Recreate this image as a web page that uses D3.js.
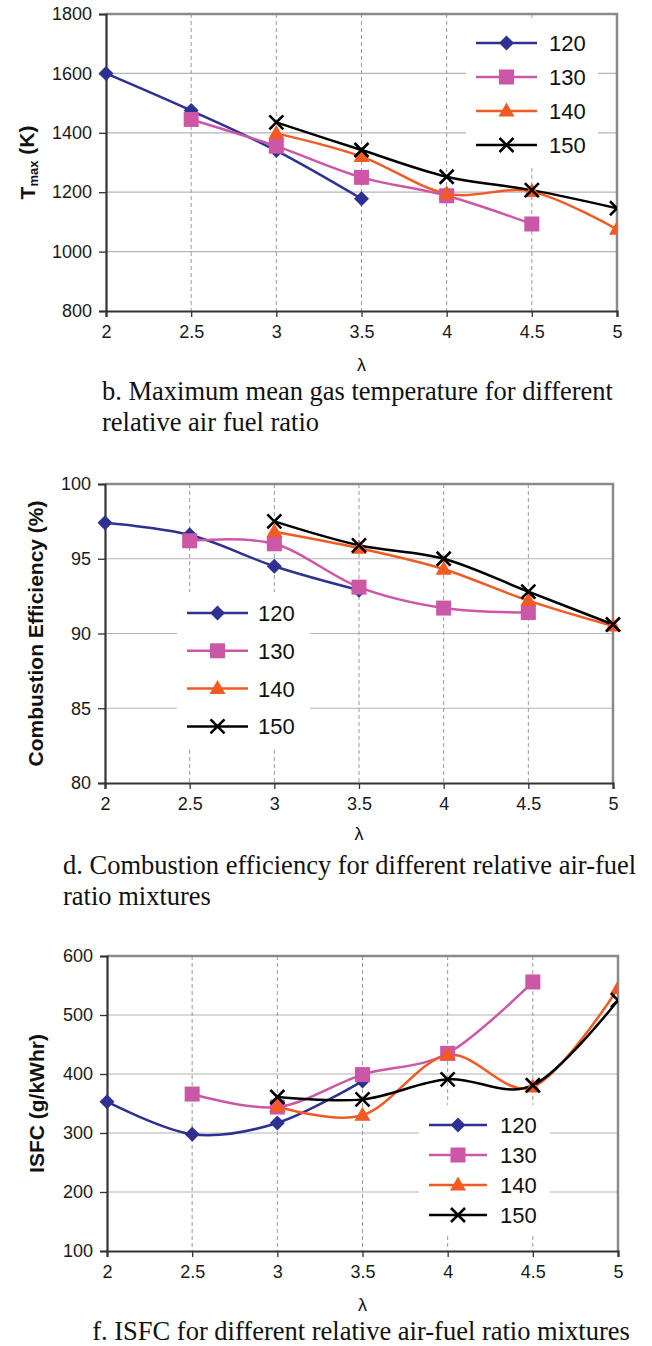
<!DOCTYPE html>
<html>
<head>
<meta charset="utf-8">
<script src="https://cdn.jsdelivr.net/npm/d3@7"></script>
<style>
  body { margin: 0; background: #fff; }
  svg { display: block; }
</style>
</head>
<body>
<svg id="fig" width="652" height="1346"></svg>
<script>
// Relative air-fuel ratio (lambda) on every x axis
const lambdaValues = [2, 2.5, 3, 3.5, 4, 4.5, 5];
const lambdaTickLabels = ["2", "2.5", "3", "3.5", "4", "4.5", "5"];
const seriesNames = ["120", "130", "140", "150"];

// b. Maximum mean gas temperature (K)
const tmax120 = [1600, 1475, 1340, 1178, null, null, null];
const tmax130 = [null, 1445, 1355, 1250, 1188, 1093, null];
const tmax140 = [null, null, 1398, 1320, 1195, 1202, 1075];
const tmax150 = [null, null, 1435, 1342, 1252, 1207, 1146];
const tmaxTicks = [800, 1000, 1200, 1400, 1600, 1800];

// d. Combustion efficiency (%)
const eff120 = [97.4, 96.6, 94.5, 92.9, null, null, null];
const eff130 = [null, 96.2, 96.0, 93.1, 91.7, 91.4, null];
const eff140 = [null, null, 96.8, 95.7, 94.3, 92.2, 90.5];
const eff150 = [null, null, 97.5, 95.9, 95.0, 92.8, 90.6];
const effTicks = [80, 85, 90, 95, 100];

// f. ISFC (g/kWhr)
const isfc120 = [353, 298, 317, 388, null, null, null];
const isfc130 = [null, 366, 344, 399, 435, 556, null];
const isfc140 = [null, null, 345, 330, 432, 378, 545];
const isfc150 = [null, null, 361, 357, 391, 381, 525];
const isfcTicks = [100, 200, 300, 400, 500, 600];

const seriesColors = ["#2e3192", "#cc57a6", "#f15a22", "#000000"];
const seriesMarkers = ["diamond", "square", "triangle", "cross"];

const svg = d3.select("#fig");
svg.append("rect").attr("width", 652).attr("height", 1346).attr("fill", "#fff");

const SANS = "'Liberation Sans', Arial, Helvetica, sans-serif";
const SERIF = "'Liberation Serif', 'Times New Roman', serif";

function drawMarker(g, type, color) {
  if (type === "diamond") {
    g.append("path").attr("d", "M0,-7.5L7.5,0L0,7.5L-7.5,0Z").attr("fill", color);
  } else if (type === "square") {
    g.append("rect").attr("x", -7.5).attr("y", -7.5).attr("width", 15).attr("height", 15).attr("fill", color);
  } else if (type === "triangle") {
    g.append("path").attr("d", "M0,-8.5L8,5.5L-8,5.5Z").attr("fill", color);
  } else {
    g.append("path").attr("d", "M-7,-7L7,7M-7,7L7,-7")
      .attr("stroke", color).attr("stroke-width", 2.6).attr("fill", "none");
  }
}

function drawPanel(p, idx) {
  const x = d3.scaleLinear().domain([2, 5]).range([p.left, p.right]);
  const y = d3.scaleLinear().domain(p.yDomain).range([p.bottom, p.top]);
  const root = svg.append("g");

  // horizontal gridlines
  root.append("g").selectAll("line").data(p.yTicks.slice(1, -1)).join("line")
    .attr("x1", p.left).attr("x2", p.right)
    .attr("y1", d => y(d)).attr("y2", d => y(d))
    .attr("stroke", "#b4b4b4").attr("stroke-width", 1.2);

  // vertical dashed gridlines
  root.append("g").selectAll("line").data(lambdaValues.slice(1, -1)).join("line")
    .attr("x1", d => x(d)).attr("x2", d => x(d))
    .attr("y1", p.top).attr("y2", p.bottom)
    .attr("stroke", "#9a9a9a").attr("stroke-width", 1).attr("stroke-dasharray", "4,3");

  // top and right frame
  root.append("path")
    .attr("d", `M${p.left},${p.top}H${p.right}V${p.bottom}`)
    .attr("fill", "none").attr("stroke", "#8a8a8a").attr("stroke-width", 2.5);

  // axes
  const yAxis = d3.axisLeft(y).tickValues(p.yTicks).tickSize(7).tickPadding(7).tickFormat(d3.format("d"));
  const gy = root.append("g").attr("transform", `translate(${p.left},0)`).call(yAxis);
  const xAxis = d3.axisBottom(x).tickValues(lambdaValues).tickSize(6).tickPadding(8)
    .tickFormat((d, i) => lambdaTickLabels[i]);
  const gx = root.append("g").attr("transform", `translate(0,${p.bottom})`).call(xAxis);
  [gx, gy].forEach(g => {
    g.select(".domain").attr("stroke", "#333").attr("stroke-width", 2.2);
    g.selectAll(".tick line").attr("stroke", "#333").attr("stroke-width", 1.3);
    g.selectAll(".tick text").attr("fill", "#1a1a1a")
      .style("font-family", SANS).style("font-size", "18px");
  });

  // data
  const clipId = "clip" + idx;
  root.append("clipPath").attr("id", clipId).append("rect")
    .attr("x", p.left - 30).attr("y", p.top - 30)
    .attr("width", (p.clipRight ? p.right : 700) - (p.left - 30))
    .attr("height", p.bottom - p.top + 60);
  const dataG = root.append("g").attr("clip-path", `url(#${clipId})`);
  const line = d3.line().x(d => x(d[0])).y(d => y(d[1])).curve(d3.curveCardinal.tension(0));

  p.series.forEach((vals, si) => {
    const pts = lambdaValues.map((l, i) => [l, vals[i]]).filter(d => d[1] != null);
    dataG.append("path").datum(pts).attr("d", line)
      .attr("fill", "none").attr("stroke", seriesColors[si]).attr("stroke-width", 2.5);
  });
  p.series.forEach((vals, si) => {
    const pts = lambdaValues.map((l, i) => [l, vals[i]]).filter(d => d[1] != null);
    pts.forEach(d => {
      const m = dataG.append("g").attr("transform", `translate(${x(d[0])},${y(d[1])})`);
      drawMarker(m, seriesMarkers[si], seriesColors[si]);
    });
  });

  // legend
  const lg = root.append("g");
  lg.append("rect").attr("x", p.legend.x).attr("y", p.legend.y)
    .attr("width", p.legend.w).attr("height", p.legend.h).attr("fill", "#fff");
  seriesNames.forEach((name, si) => {
    const ry = p.legend.row0 + si * p.legend.step;
    lg.append("line").attr("x1", p.legend.lx0).attr("x2", p.legend.lx1)
      .attr("y1", ry).attr("y2", ry)
      .attr("stroke", seriesColors[si]).attr("stroke-width", 2.5);
    const m = lg.append("g").attr("transform", `translate(${(p.legend.lx0 + p.legend.lx1) / 2},${ry})`);
    drawMarker(m, seriesMarkers[si], seriesColors[si]);
    lg.append("text").attr("x", p.legend.tx).attr("y", ry).attr("dy", "0.36em")
      .style("font-family", SANS).style("font-size", "22px").attr("fill", "#111").text(name);
  });

  // y title
  const yt = root.append("text")
    .attr("transform", `translate(${p.yTitleX},${(p.top + p.bottom) / 2}) rotate(-90)`)
    .attr("text-anchor", "middle").attr("dy", "0.36em")
    .style("font-family", SANS).style("font-size", "21px").style("font-weight", "bold")
    .attr("fill", "#111");
  p.yTitle(yt);

  // x title
  root.append("text").attr("x", (p.left + p.right) / 2).attr("y", p.bottom + p.lambdaDy)
    .attr("text-anchor", "middle")
    .style("font-family", SANS).style("font-size", "18px").attr("fill", "#111").text("λ");

  // caption
  p.caption.forEach((t, i) => {
    root.append("text").attr("x", p.captionX).attr("y", p.captionY + i * 31)
      .attr("text-anchor", p.captionAnchor)
      .style("font-family", SERIF).style("font-size", "26.5px").attr("fill", "#111").text(t);
  });
}

const panels = [
  {
    left: 106, right: 617, top: 14, bottom: 311, yDomain: [800, 1800], yTicks: tmaxTicks,
    series: [tmax120, tmax130, tmax140, tmax150], clipRight: true,
    legend: { x: 466, y: 20, w: 132, h: 145, row0: 43, step: 34, lx0: 476, lx1: 537, tx: 549 },
    yTitleX: 27,
    yTitle: t => {
      t.append("tspan").text("T");
      t.append("tspan").attr("dy", "0.25em").style("font-size", "13px").text("max");
      t.append("tspan").attr("dy", "-0.2em").text(" (K)");
    },
    lambdaDy: 60,
    caption: ["b. Maximum mean gas temperature for different", "relative air fuel ratio"],
    captionX: 102, captionY: 400, captionAnchor: "start"
  },
  {
    left: 105, right: 613, top: 484, bottom: 783, yDomain: [80, 100], yTicks: effTicks,
    series: [eff120, eff130, eff140, eff150], clipRight: false,
    legend: { x: 177, y: 592, w: 133, h: 156, row0: 613, step: 37.8, lx0: 187, lx1: 248, tx: 258 },
    yTitleX: 35,
    yTitle: t => t.text("Combustion Efficiency (%)"),
    lambdaDy: 57,
    caption: ["d. Combustion efficiency for different relative air-fuel", "ratio mixtures"],
    captionX: 63, captionY: 874, captionAnchor: "start"
  },
  {
    left: 107, right: 618, top: 956, bottom: 1251, yDomain: [100, 600], yTicks: isfcTicks,
    series: [isfc120, isfc130, isfc140, isfc150], clipRight: true,
    legend: { x: 419, y: 1105, w: 131, h: 131, row0: 1125, step: 30, lx0: 429, lx1: 487, tx: 500 },
    yTitleX: 36,
    yTitle: t => t.text("ISFC (g/kWhr)"),
    lambdaDy: 60,
    caption: ["f. ISFC for different relative air-fuel ratio mixtures"],
    captionX: 361, captionY: 1340, captionAnchor: "middle"
  }
];

panels.forEach(drawPanel);
</script>
</body>
</html>
